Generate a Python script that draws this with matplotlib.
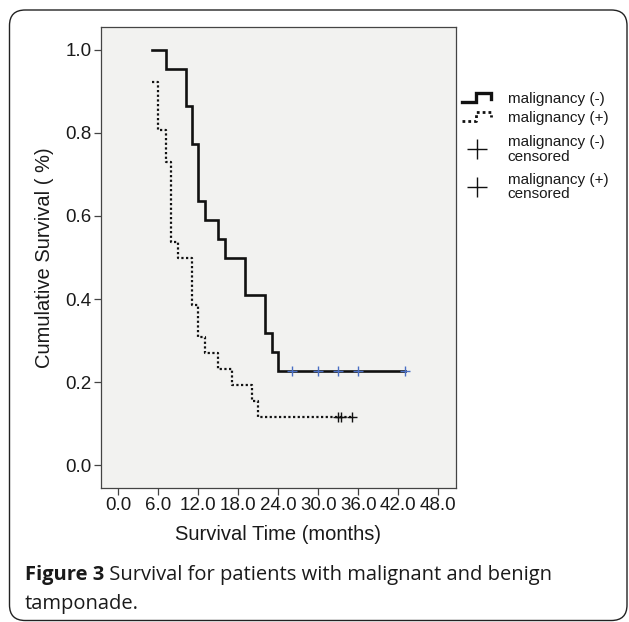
import numpy as np
import matplotlib
matplotlib.use("Agg")
import matplotlib.pyplot as plt
from matplotlib.lines import Line2D
from matplotlib.legend_handler import HandlerBase
from matplotlib.patches import FancyBboxPatch

# ---- data ----
neg_times = [5.0, 7.1, 10.1, 11.1, 12.0, 13.0, 15.0, 16.0, 19.0, 22.0, 23.0, 24.0]
neg_surv = [1.0, 0.955, 0.864, 0.773, 0.636, 0.591, 0.545, 0.5, 0.409, 0.318, 0.273, 0.227]
neg_end = 43.0
neg_censor = [26.0, 30.0, 33.0, 36.0, 43.0]

pos_times = [5.1, 6.0, 7.1, 7.85, 9.0, 11.0, 12.0, 13.0, 15.0, 17.0, 20.0, 21.0]
pos_surv = [0.923, 0.808, 0.731, 0.538, 0.5, 0.385, 0.308, 0.269, 0.231, 0.192, 0.154, 0.115]
pos_end = 35.0
pos_censor = [33.0, 33.4, 35.0]

x_ticks = [0, 6, 12, 18, 24, 30, 36, 42, 48]
y_ticks = [0.0, 0.2, 0.4, 0.6, 0.8, 1.0]
line_labels = ["malignancy (-)", "malignancy (+)"]
censor_labels = ["malignancy (-)\ncensored", "malignancy (+)\ncensored"]

W, H = 629, 622
fig = plt.figure(figsize=(W / 100, H / 100), dpi=100)
fig.patch.set_facecolor("white")

# outer rounded frame
frame = FancyBboxPatch((9.5 / W, 1 - 620.5 / H), (627 - 9.5) / W, (620.5 - 10) / H,
                       boxstyle="round,pad=0,rounding_size=0.025",
                       transform=fig.transFigure, fill=False,
                       edgecolor="#222222", lw=1.0, clip_on=False)
fig.patches.append(frame)

ax = fig.add_axes([100.7 / W, 1 - 488 / H, (456 - 100.7) / W, (488 - 27) / H])
ax.set_facecolor("#f2f2f0")

def step_xy(times, surv, end):
    return list(times) + [end], list(surv) + [surv[-1]]

def surv_at(times, surv, t):
    idx = np.searchsorted(np.array(times), t, side="right") - 1
    return np.array(surv)[idx]

xs, ys = step_xy(neg_times, neg_surv, neg_end)
ax.step(xs, ys, where="post", color="#111111", lw=1.9, solid_joinstyle="miter")
xp, yp = step_xy(pos_times, pos_surv, pos_end)
ax.step(xp, yp, where="post", color="#111111", lw=1.6, linestyle=(0, (1, 1.1)))

ax.plot(neg_censor, surv_at(neg_times, neg_surv, neg_censor), ls="none",
        marker="+", ms=7, mew=1.0, color="#4a6fc4")
ax.plot(pos_censor, surv_at(pos_times, pos_surv, pos_censor), ls="none",
        marker="+", ms=7, mew=1.0, color="#111111")

ax.set_xlim(-2.64, 50.65)
ax.set_ylim(-0.055, 1.055)
ax.set_xticks(x_ticks)
ax.set_xticklabels([f"{v:.1f}" for v in x_ticks])
ax.set_yticks(y_ticks)
ax.set_yticklabels([f"{v:.1f}" for v in y_ticks])
for s in ax.spines.values():
    s.set_color("#444444")
    s.set_linewidth(0.9)
ax.tick_params(direction="out", length=5, width=0.9, color="#444444",
               labelsize=13.5, labelcolor="#1a1a1a", pad=1.5)
for lab in ax.get_xticklabels() + ax.get_yticklabels():
    lab.set_fontfamily("Liberation Sans")
ax.set_xlabel("Survival Time (months)", fontsize=14.5, family="Liberation Sans",
              color="#1a1a1a", labelpad=8)
ax.set_ylabel("Cumulative Survival ( %)", fontsize=14.5, family="Liberation Sans",
              color="#1a1a1a", labelpad=8)


class StepHandler(HandlerBase):
    def __init__(self, ls, lw):
        super().__init__()
        self.ls = ls
        self.lw = lw

    def create_artists(self, legend, orig_handle, xdescent, ydescent, width,
                       height, fontsize, trans):
        fx = np.array([0.0, 0.45, 0.45, 0.95, 0.95])
        fy = np.array([0.05, 0.05, 0.9, 0.9, 0.4])
        line = Line2D(fx * width - xdescent, fy * height - ydescent,
                      color="#111111", lw=self.lw, linestyle=self.ls,
                      solid_joinstyle="miter")
        line.set_transform(trans)
        return [line]


leg_kw = dict(loc="upper left", frameon=False, handlelength=2.0,
              handletextpad=1.0, borderaxespad=0, borderpad=0,
              prop={"family": "Liberation Sans", "size": 11})

h_neg = Line2D([], [], color="#111111")
h_pos = Line2D([], [], color="#111111", ls=":")
leg1 = fig.legend([h_neg, h_pos], line_labels,
                  bbox_to_anchor=(462 / W, 1 - 92 / H), labelspacing=0.3,
                  handler_map={h_neg: StepHandler("-", 2.4),
                               h_pos: StepHandler((0, (1, 1.1)), 2.0)},
                  **leg_kw)

h_c1 = Line2D([], [], ls="none", marker="+", ms=15, mew=1.0, color="#111111")
h_c2 = Line2D([], [], ls="none", marker="+", ms=15, mew=1.0, color="#111111")
leg2 = fig.legend([h_c1, h_c2], censor_labels,
                  bbox_to_anchor=(462 / W, 1 - 135 / H), labelspacing=0.6,
                  **leg_kw)
for lg in (leg1, leg2):
    for t in lg.get_texts():
        t.set_linespacing(1.05)
        t.set_color("#1a1a1a")

# caption
cap_kw = dict(fontsize=14.5, family="Open Sans", color="#1a1a1a")
t1 = fig.text(25 / W, 1 - 575 / H, "Figure 3", weight="bold", va="center",
              ha="left", **cap_kw)
ax.annotate(" Survival for patients with malignant and benign", xy=(1, 0),
            xycoords=t1, va="bottom", ha="left", annotation_clip=False, **cap_kw)
fig.text(25 / W, 1 - 604 / H, "tamponade.", va="center", ha="left", **cap_kw)

fig.savefig("out.png", dpi=100)
